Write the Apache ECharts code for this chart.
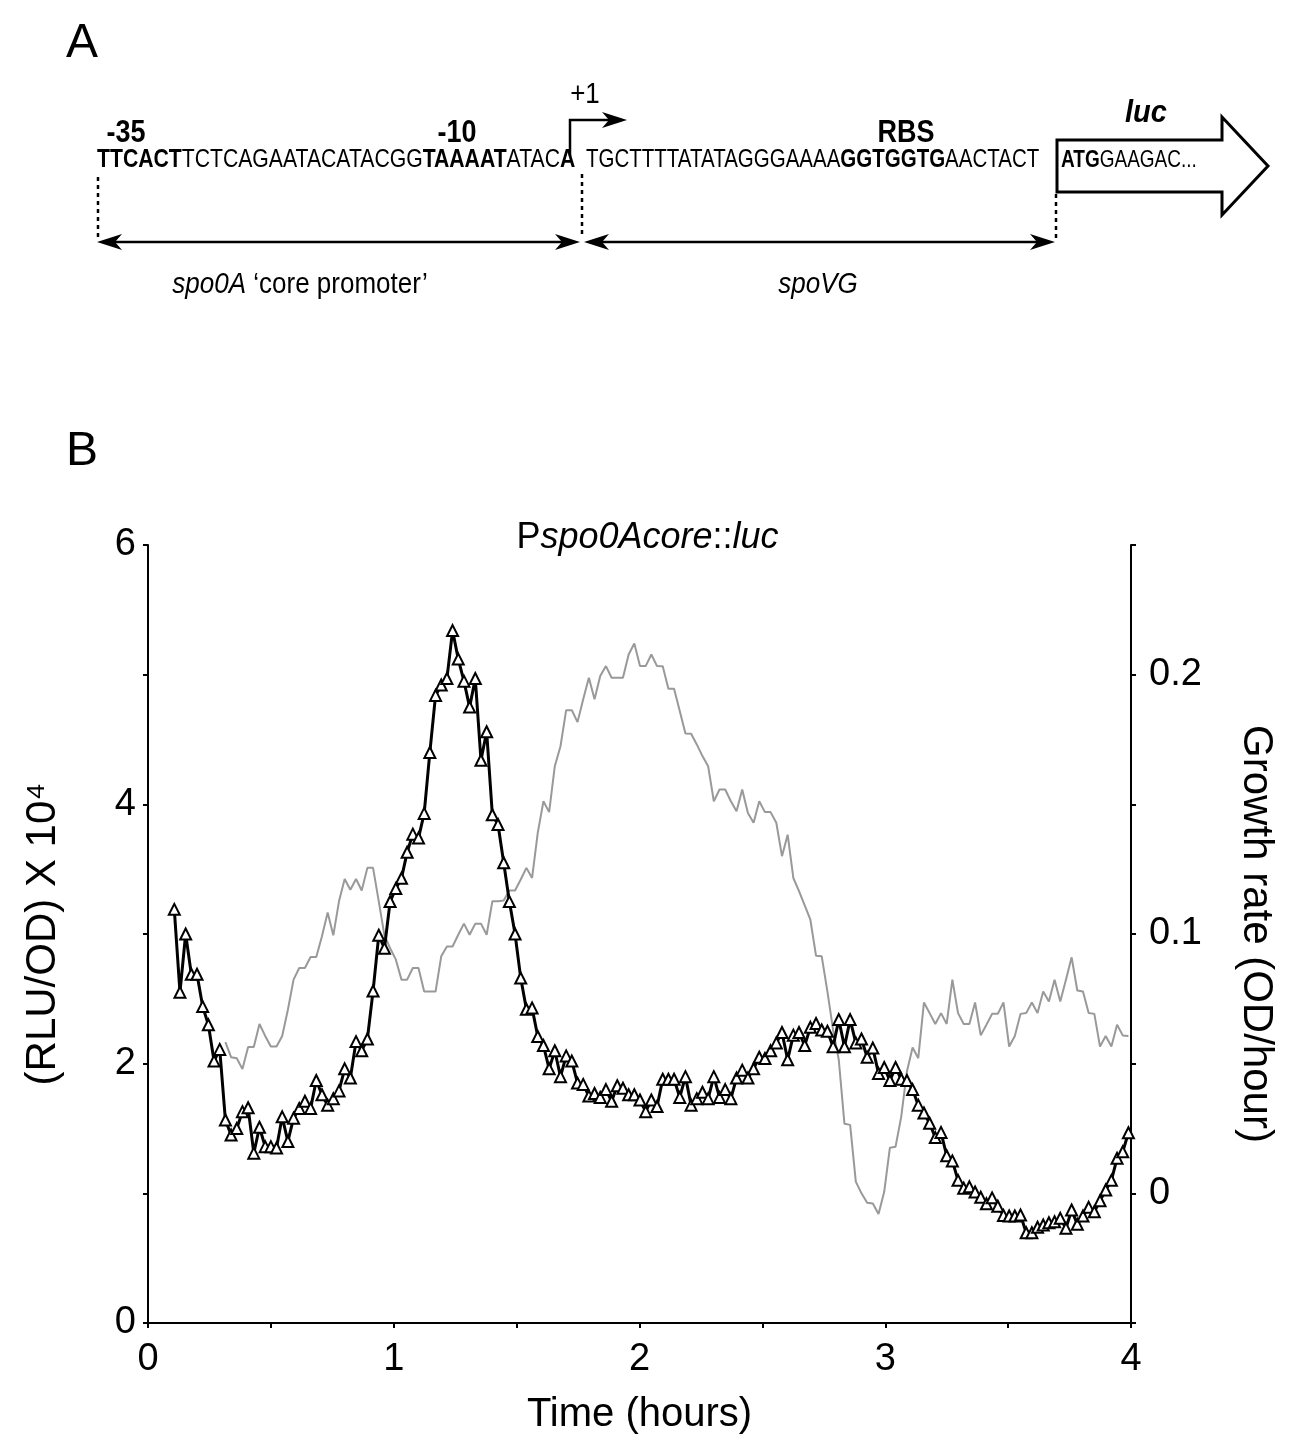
<!DOCTYPE html>
<html>
<head>
<meta charset="utf-8">
<script src="https://cdn.jsdelivr.net/npm/echarts@6/dist/echarts.min.js"></script>
<style>
html,body{margin:0;padding:0;background:#fff;}
#chart{width:1295px;height:1443px;}
</style>
</head>
<body>
<div id="chart"></div>
<script>
// ---- Data ----
// Sampling: first reading at ~0.107 h, one reading every ~0.0231 h (~1.39 min)
const timeStartHours = 0.107;
const sampleIntervalHours = 0.02311;

// Luciferase signal, (RLU/OD) x 10^4, one value per sample
const luminescenceValues = [
  3.19, 2.55, 3.00, 2.69, 2.69, 2.44, 2.30, 2.02, 2.11, 1.565,
  1.45, 1.50, 1.63, 1.66, 1.31, 1.51, 1.36, 1.36, 1.35, 1.59,
  1.40, 1.58, 1.655, 1.71, 1.655, 1.87, 1.76, 1.68, 1.73, 1.79,
  1.96, 1.89, 2.17, 2.10, 2.19, 2.56, 2.99, 2.89, 3.25, 3.35,
  3.43, 3.63, 3.77, 3.74, 3.93, 4.40, 4.84, 4.92, 4.97, 5.34,
  5.12, 4.95, 4.75, 4.97, 4.34, 4.56, 3.92, 3.845, 3.55, 3.25,
  3.00, 2.66, 2.42, 2.43, 2.21, 2.14, 1.96, 2.10, 1.90, 2.06,
  2.02, 1.85, 1.84, 1.75, 1.77, 1.74, 1.80, 1.71, 1.83, 1.81,
  1.76, 1.76, 1.72, 1.63, 1.72, 1.67, 1.88, 1.88, 1.88, 1.74,
  1.90, 1.68, 1.73, 1.78, 1.73, 1.90, 1.74, 1.80, 1.73, 1.89,
  1.95, 1.89, 1.96, 2.05, 2.04, 2.10, 2.16, 2.24, 2.03, 2.22,
  2.24, 2.14, 2.28, 2.31, 2.26, 2.25, 2.13, 2.34, 2.13, 2.34,
  2.16, 2.19, 2.05, 2.12, 1.925, 1.97, 1.87, 1.97, 1.88, 1.87,
  1.80, 1.68, 1.62, 1.54, 1.43, 1.47, 1.29, 1.25, 1.10, 1.04,
  1.05, 1.01, 0.97, 0.92, 0.965, 0.90, 0.83, 0.825, 0.825, 0.833,
  0.696, 0.696, 0.738, 0.756, 0.773, 0.781, 0.807, 0.73, 0.871, 0.761,
  0.825, 0.892, 0.858, 0.943, 1.025, 1.10, 1.27, 1.32, 1.467
];

// Growth rate (OD/hour); starts at sample index 9 (10th sample)
const growthStartIndex = 9;
const growthRateValues = [
  0.0583, 0.0525, 0.0521, 0.0479, 0.0564, 0.0564, 0.0653, 0.0607, 0.0566, 0.0566,
  0.0607, 0.0708, 0.0824, 0.0869, 0.0869, 0.0911, 0.0911, 0.0991, 0.1083, 0.0995,
  0.1126, 0.1212, 0.1171, 0.1212, 0.1168, 0.1255, 0.1255, 0.1126, 0.0995, 0.0945,
  0.0902, 0.0824, 0.0824, 0.0869, 0.0869, 0.0778, 0.0778, 0.0778, 0.0914, 0.0952,
  0.0952, 0.0997, 0.104, 0.0997, 0.104, 0.104, 0.0997, 0.1126, 0.1126, 0.1129,
  0.1168, 0.1168, 0.121, 0.1255, 0.1216, 0.139, 0.1512, 0.147, 0.1647, 0.1724,
  0.1863, 0.1863, 0.1817, 0.1905, 0.1988, 0.1905, 0.1995, 0.2033, 0.1988, 0.1988,
  0.1988, 0.2078, 0.212, 0.2033, 0.2033, 0.2078, 0.2033, 0.2032, 0.1946, 0.1946,
  0.186, 0.1773, 0.1772, 0.1731, 0.1686, 0.1647, 0.1512, 0.1557, 0.1557, 0.1512,
  0.1473, 0.1557, 0.1467, 0.1429, 0.1512, 0.147, 0.147, 0.1429, 0.13, 0.1383,
  0.1216, 0.1165, 0.111, 0.1055, 0.0916, 0.0914, 0.0778, 0.063, 0.0515, 0.0268,
  0.0264, 0.0045, 0.0, -0.0036, -0.0039, -0.008, 0.0006, 0.0176, 0.018, 0.0296,
  0.047, 0.0562, 0.0521, 0.0736, 0.0695, 0.0653, 0.0695, 0.0653, 0.0824, 0.0695,
  0.0653, 0.0653, 0.0736, 0.0609, 0.065, 0.0692, 0.0692, 0.0736, 0.0566, 0.0607,
  0.0692, 0.0695, 0.0736, 0.0695, 0.0778, 0.074, 0.0824, 0.074, 0.0824, 0.091,
  0.0782, 0.0778, 0.0695, 0.0692, 0.0566, 0.0607, 0.0566, 0.065, 0.0609, 0.0607
];

// Axis tick labels
const timeTickLabels = ['0', '1', '2', '3', '4'];
const luminescenceTickLabels = ['0', '2', '4', '6'];
const growthTickLabels = ['0', '0.1', '0.2'];

// Panel A sequence pieces
const seqPromoter = [['b','TTCACT'],['n','TCTCAGAATACATACGG'],['b','TAAAAT'],['n','ATAC'],['b','A']];
const seqSpoVG = [['n','TGCTTTTATATAGGGAAAA'],['b','GGTGGTG'],['n','AACTACT']];
const seqLuc = [['b','ATG'],['n','GAAGAC...']];

// ---- Build series data ----
const sampleTimes = luminescenceValues.map((_, i) => +(timeStartHours + i * sampleIntervalHours).toFixed(4));
const lumData = luminescenceValues.map((v, i) => [sampleTimes[i], v]);
const growthData = growthRateValues.map((v, i) => [sampleTimes[i + growthStartIndex], v]);

const FONT = '"Liberation Sans", Arial, Helvetica, sans-serif';
const seqRich = function (size) {
  return {
    b: { fontFamily: FONT, fontSize: size, fontWeight: 'bold', fill: '#000' },
    n: { fontFamily: FONT, fontSize: size, fill: '#000' }
  };
};
const toRich = parts => parts.map(p => '{' + p[0] + '|' + p[1] + '}').join('');

function arrowHead(tipX, tipY, dir) {
  // dir: 1 pointing right, -1 pointing left
  return {
    type: 'polygon', silent: true,
    shape: { points: [[tipX, tipY], [tipX - dir * 25, tipY - 8], [tipX - dir * 18, tipY], [tipX - dir * 25, tipY + 8]] },
    style: { fill: '#000' }
  };
}
function label(x, y, text, font, sy) {
  return { type: 'text', x: x, y: y, scaleY: sy || 1, style: { text: text, font: font, fill: '#000', align: 'center', verticalAlign: 'middle' } };
}

const graphics = [
  // Panel letters
  label(82, 44, 'A', '48px ' + FONT),
  label(82, 452, 'B', '48px ' + FONT),
  // Labels above sequence
  label(126, 133, '-35', 'bold 27px ' + FONT, 1.15),
  label(457, 133, '-10', 'bold 27px ' + FONT, 1.15),
  label(906, 133, 'RBS', 'bold 27px ' + FONT, 1.15),
  label(585, 95, '+1', '26px ' + FONT, 1.1),
  label(1146, 113, 'luc', 'italic bold 29px ' + FONT, 1.1),
  // Transcription start bent arrow
  { type: 'polyline', silent: true, shape: { points: [[570, 156], [570, 120], [612, 120]] }, style: { stroke: '#000', lineWidth: 2.5, fill: null } },
  arrowHead(627, 120, 1),
  // luc block arrow
  { type: 'polygon', silent: true, shape: { points: [[1057, 140], [1222, 140], [1222, 117], [1268, 166], [1222, 215], [1222, 192], [1057, 192]] },
    style: { fill: '#fff', stroke: '#000', lineWidth: 3 } },
  // Sequences
  { type: 'text', x: 97, y: 160, scaleY: 1.25, style: { text: toRich(seqPromoter), rich: seqRich(21.2), verticalAlign: 'middle', align: 'left' } },
  { type: 'text', x: 586, y: 160, scaleY: 1.25, style: { text: toRich(seqSpoVG), rich: seqRich(20.5), verticalAlign: 'middle', align: 'left' } },
  { type: 'text', x: 1061, y: 160, scaleY: 1.25, style: { text: toRich(seqLuc), rich: seqRich(19), verticalAlign: 'middle', align: 'left' } },
  // Dotted boundary lines
  { type: 'line', silent: true, shape: { x1: 98, y1: 177, x2: 98, y2: 238 }, style: { stroke: '#000', lineWidth: 2.5, lineDash: [4, 4] } },
  { type: 'line', silent: true, shape: { x1: 582, y1: 174, x2: 582, y2: 238 }, style: { stroke: '#000', lineWidth: 2.5, lineDash: [4, 4] } },
  { type: 'line', silent: true, shape: { x1: 1056, y1: 194, x2: 1056, y2: 238 }, style: { stroke: '#000', lineWidth: 2.5, lineDash: [4, 4] } },
  // Double-headed arrows
  { type: 'line', silent: true, shape: { x1: 110, y1: 242, x2: 568, y2: 242 }, style: { stroke: '#000', lineWidth: 2.5 } },
  arrowHead(97, 242, -1), arrowHead(580, 242, 1),
  { type: 'line', silent: true, shape: { x1: 597, y1: 242, x2: 1042, y2: 242 }, style: { stroke: '#000', lineWidth: 2.5 } },
  arrowHead(584, 242, -1), arrowHead(1055, 242, 1),
  // Region labels
  { type: 'text', x: 300, y: 285, scaleY: 1.1, style: { text: '{i|spo0A}{n|\u00a0‘core promoter’}',
      rich: { i: { fontFamily: FONT, fontSize: 26, fontStyle: 'italic', fill: '#000' }, n: { fontFamily: FONT, fontSize: 26, fill: '#000' } },
      align: 'center', verticalAlign: 'middle' } },
  label(818, 285, 'spoVG', 'italic 26px ' + FONT, 1.1)
];

const chart = echarts.init(document.getElementById('chart'), null, { renderer: 'canvas', width: 1295, height: 1443 });

const axisLabelStyle = { color: '#000', fontSize: 38, fontFamily: FONT };

chart.setOption({
  animation: false,
  backgroundColor: '#fff',
  title: {
    text: '{n|P}{i|spo0Acore}{n|::}{i|luc}',
    left: 'center',
    top: 515,
    textStyle: {
      fontWeight: 'normal',
      rich: {
        n: { fontFamily: FONT, fontSize: 36, fontWeight: 'normal', color: '#000' },
        i: { fontFamily: FONT, fontSize: 36, fontWeight: 'normal', fontStyle: 'italic', color: '#000' }
      }
    }
  },
  grid: { left: 148, top: 545, width: 983, height: 778, containLabel: false },
  xAxis: {
    type: 'value', min: 0, max: 4, interval: 1,
    name: 'Time (hours)', nameLocation: 'middle', nameGap: 72,
    nameTextStyle: { color: '#000', fontSize: 40, fontFamily: FONT },
    axisLine: { show: true, onZero: false, lineStyle: { color: '#000', width: 2 } },
    axisTick: { show: true, length: 5, inside: false, lineStyle: { color: '#000', width: 2 } },
    minorTick: { show: true, splitNumber: 2, length: 5, lineStyle: { color: '#000', width: 2 } },
    axisLabel: Object.assign({ margin: 18, formatter: v => timeTickLabels[Math.round(v)] }, axisLabelStyle),
    splitLine: { show: false }
  },
  yAxis: [
    {
      type: 'value', min: 0, max: 6, interval: 2, position: 'left',
      name: '(RLU/OD) X 10⁴', nameLocation: 'middle', nameGap: 84, nameRotate: 90,
      nameTextStyle: { color: '#000', fontSize: 42, fontFamily: FONT },
      axisLine: { show: true, onZero: false, lineStyle: { color: '#000', width: 2 } },
      axisTick: { show: true, length: 5, lineStyle: { color: '#000', width: 2 } },
      minorTick: { show: true, splitNumber: 2, length: 5, lineStyle: { color: '#000', width: 2 } },
      axisLabel: Object.assign({ margin: 12, formatter: v => luminescenceTickLabels[Math.round(v / 2)] }, axisLabelStyle),
      splitLine: { show: false }
    },
    {
      type: 'value', min: -0.05, max: 0.25, interval: 0.05, position: 'right',
      name: 'Growth rate (OD/hour)', nameLocation: 'middle', nameGap: 104, nameRotate: -90,
      nameTextStyle: { color: '#000', fontSize: 42, fontFamily: FONT },
      axisLine: { show: true, onZero: false, lineStyle: { color: '#000', width: 2 } },
      axisTick: { show: true, length: 5, lineStyle: { color: '#000', width: 2 } },
      axisLabel: Object.assign({
        margin: 18,
        formatter: function (v) {
          const k = Math.round(v * 100);
          if (k < 0 || k % 10 !== 0) return '';
          return growthTickLabels[k / 10] || '';
        }
      }, axisLabelStyle),
      splitLine: { show: false }
    }
  ],
  series: [
    {
      name: 'Growth rate', type: 'line', yAxisIndex: 1, data: growthData,
      showSymbol: false, symbol: 'none',
      lineStyle: { color: '#999999', width: 2 }, z: 2
    },
    {
      name: 'Pspo0Acore::luc', type: 'line', yAxisIndex: 0, data: lumData,
      symbol: 'triangle', symbolSize: 11, showSymbol: true, showAllSymbol: true,
      lineStyle: { color: '#000', width: 3 },
      itemStyle: { color: '#fff', borderColor: '#000', borderWidth: 2 }, z: 3
    }
  ],
  graphic: graphics
});
</script>
</body>
</html>
